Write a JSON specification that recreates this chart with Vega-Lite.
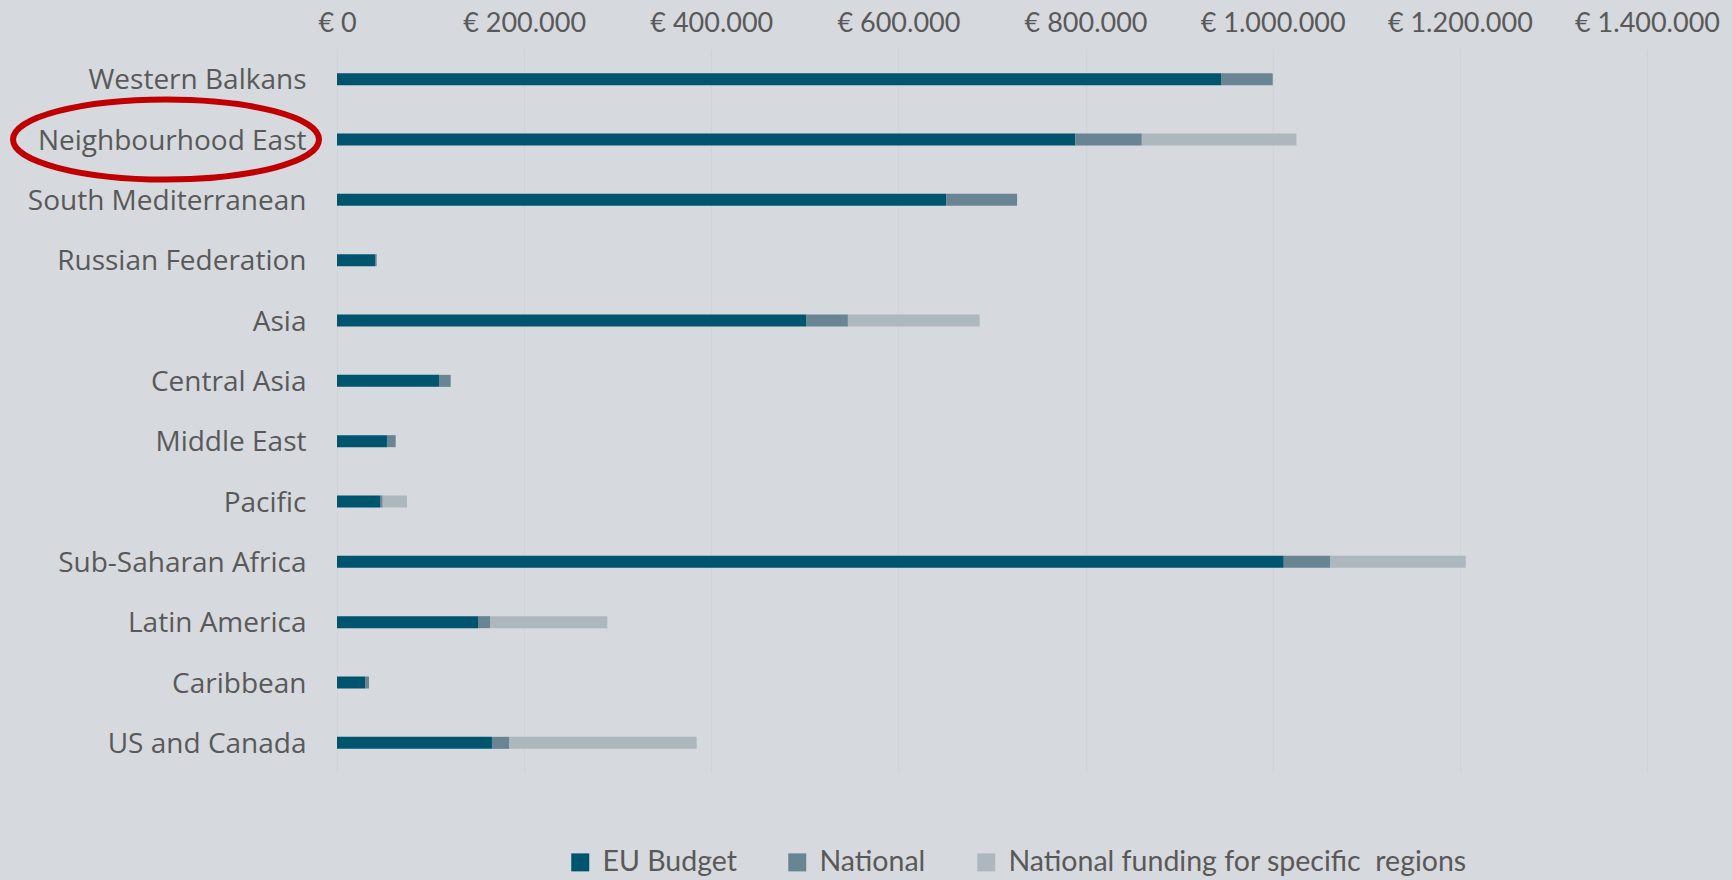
{
  "$schema": "https://vega.github.io/schema/vega-lite/v6.json",
  "width": 1310,
  "height": 724,
  "autosize": {"type": "none"},
  "padding": {"left": 337, "top": 49, "right": 85, "bottom": 107},
  "background": "#D6D9DE",
  "config": {"view": {"stroke": null}, "font": "Open Sans"},
  "datasets": {
    "funding": [
      {"region": "Western Balkans", "type": "EU Budget", "value": 944800},
      {"region": "Western Balkans", "type": "National", "value": 55200},
      {"region": "Western Balkans", "type": "National funding for specific  regions", "value": 0},
      {"region": "Neighbourhood East", "type": "EU Budget", "value": 789100},
      {"region": "Neighbourhood East", "type": "National", "value": 71000},
      {"region": "Neighbourhood East", "type": "National funding for specific  regions", "value": 165200},
      {"region": "South Mediterranean", "type": "EU Budget", "value": 651000},
      {"region": "South Mediterranean", "type": "National", "value": 75800},
      {"region": "South Mediterranean", "type": "National funding for specific  regions", "value": 0},
      {"region": "Russian Federation", "type": "EU Budget", "value": 40600},
      {"region": "Russian Federation", "type": "National", "value": 1800},
      {"region": "Russian Federation", "type": "National funding for specific  regions", "value": 0},
      {"region": "Asia", "type": "EU Budget", "value": 501300},
      {"region": "Asia", "type": "National", "value": 44700},
      {"region": "Asia", "type": "National funding for specific  regions", "value": 140800},
      {"region": "Central Asia", "type": "EU Budget", "value": 109000},
      {"region": "Central Asia", "type": "National", "value": 12500},
      {"region": "Central Asia", "type": "National funding for specific  regions", "value": 0},
      {"region": "Middle East", "type": "EU Budget", "value": 53400},
      {"region": "Middle East", "type": "National", "value": 9300},
      {"region": "Middle East", "type": "National funding for specific  regions", "value": 0},
      {"region": "Pacific", "type": "EU Budget", "value": 46000},
      {"region": "Pacific", "type": "National", "value": 2800},
      {"region": "Pacific", "type": "National funding for specific  regions", "value": 26000},
      {"region": "Sub-Saharan Africa", "type": "EU Budget", "value": 1011800},
      {"region": "Sub-Saharan Africa", "type": "National", "value": 49400},
      {"region": "Sub-Saharan Africa", "type": "National funding for specific  regions", "value": 145100},
      {"region": "Latin America", "type": "EU Budget", "value": 150700},
      {"region": "Latin America", "type": "National", "value": 12800},
      {"region": "Latin America", "type": "National funding for specific  regions", "value": 125400},
      {"region": "Caribbean", "type": "EU Budget", "value": 29900},
      {"region": "Caribbean", "type": "National", "value": 4300},
      {"region": "Caribbean", "type": "National funding for specific  regions", "value": 0},
      {"region": "US and Canada", "type": "EU Budget", "value": 165600},
      {"region": "US and Canada", "type": "National", "value": 18200},
      {"region": "US and Canada", "type": "National funding for specific  regions", "value": 200600}
    ],
    "highlight": [
      {"region": "Neighbourhood East", "pos": -182750}
    ]
  },
  "layer": [
    {
      "data": {"name": "funding"},
      "mark": {"type": "bar", "size": 12},
      "encoding": {
        "y": {
          "field": "region",
          "type": "nominal",
          "sort": ["Western Balkans", "Neighbourhood East", "South Mediterranean", "Russian Federation", "Asia", "Central Asia", "Middle East", "Pacific", "Sub-Saharan Africa", "Latin America", "Caribbean", "US and Canada"],
          "scale": {"paddingInner": 0, "paddingOuter": 0},
          "axis": {
            "title": null,
            "domain": false,
            "ticks": false,
            "labelFont": "Open Sans",
            "labelFontSize": 28,
            "labelColor": "#595959",
            "labelPadding": 31,
            "labelOffset": 2,
            "labelLimit": 400
          }
        },
        "x": {
          "field": "value",
          "type": "quantitative",
          "stack": "zero",
          "scale": {"domain": [0, 1400000], "nice": false},
          "axis": {
            "orient": "top",
            "title": null,
            "domain": false,
            "ticks": false,
            "values": [0, 200000, 400000, 600000, 800000, 1000000, 1200000, 1400000],
            "labelExpr": "'€ ' + replace(replace(format(datum.value, ','), ',', '.'), ',', '.')",
            "labelFont": "Lato",
            "labelFontSize": 27,
            "labelColor": "#595959",
            "labelPadding": 12,
            "labelFlush": false,
            "grid": true,
            "gridColor": "#D0D3D8",
            "gridWidth": 1
          }
        },
        "color": {
          "field": "type",
          "type": "nominal",
          "scale": {
            "domain": ["EU Budget", "National", "National funding for specific  regions"],
            "range": ["#00556E", "#698492", "#ADB8BE"]
          },
          "legend": {
            "orient": "none",
            "legendX": 229,
            "legendY": 799,
            "direction": "horizontal",
            "columns": 3,
            "title": null,
            "symbolType": "square",
            "symbolSize": 324,
            "symbolStrokeWidth": 0,
            "labelFont": "Lato",
            "labelFontSize": 28.5,
            "labelColor": "#595959",
            "labelOffset": 8,
            "columnPadding": 46,
            "labelLimit": 600,
            "labelExpr": "replace(datum.label, '  ', '\u00a0 ')"
          }
        },
        "order": {"field": "type", "sort": "ascending"}
      }
    },
    {
      "data": {"name": "highlight"},
      "mark": {
        "type": "point",
        "shape": "M-1,0A1,0.2614,0,1,0,1,0A1,0.2614,0,1,0,-1,0Z",
        "size": 93636,
        "filled": false,
        "color": "#C00000",
        "strokeWidth": 6,
        "opacity": 1
      },
      "encoding": {
        "y": {
          "field": "region",
          "type": "nominal",
          "sort": ["Western Balkans", "Neighbourhood East", "South Mediterranean", "Russian Federation", "Asia", "Central Asia", "Middle East", "Pacific", "Sub-Saharan Africa", "Latin America", "Caribbean", "US and Canada"]
        },
        "x": {
          "field": "pos",
          "type": "quantitative",
          "scale": {"domain": [0, 1400000], "nice": false}
        }
      }
    }
  ]
}
